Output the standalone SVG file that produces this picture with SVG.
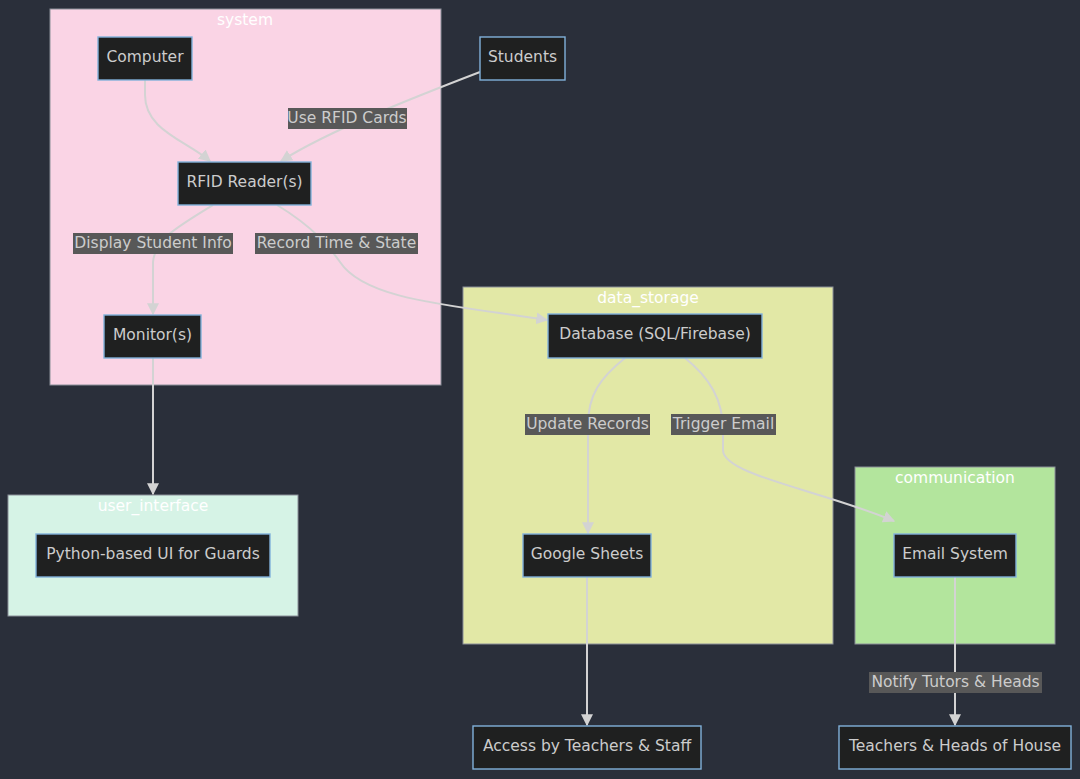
<svg xmlns="http://www.w3.org/2000/svg" width="1080" height="779" viewBox="0 0 1080 779">
  <defs>
    <marker id="arrow" viewBox="0 0 10 10" refX="9" refY="5" markerWidth="12" markerHeight="12" markerUnits="userSpaceOnUse" orient="auto">
      <path d="M0,0 L10,5 L0,10 z" fill="#d3d3d3"/>
    </marker>
    <style>
      text { font-family: "DejaVu Sans", "Liberation Sans", sans-serif; font-size: 15.5px; }
      .cluster rect { stroke: #8a8f98; stroke-width: 1; }
      .cluster text { fill: #ffffff; text-anchor: middle; }
      .node rect { fill: #1f2020; stroke: #81b1db; stroke-width: 1.4; }
      .node text { fill: #cccccc; text-anchor: middle; dominant-baseline: central; }
      .edges path { fill: none; stroke: #d3d3d3; stroke-width: 2; marker-end: url(#arrow); }
      .elabel rect { fill: #585858; }
      .elabel text { fill: #cccccc; text-anchor: middle; dominant-baseline: central; }
    </style>
  </defs>

  <rect width="1080" height="779" fill="#2a2f3a"/>

  <!-- subgraphs -->
  <g id="system" class="cluster">
    <rect x="50" y="9" width="391" height="376" fill="#fad4e5"/>
    <text x="245" y="25">system</text>
  </g>
  <g id="user_interface" class="cluster">
    <rect x="8" y="495" width="290" height="121" fill="#d6f3e6"/>
    <text x="153" y="511">user_interface</text>
  </g>
  <g id="data_storage" class="cluster">
    <rect x="463" y="287" width="370" height="357" fill="#e2e8a6"/>
    <text x="648" y="303">data_storage</text>
  </g>
  <g id="communication" class="cluster">
    <rect x="855" y="467" width="200" height="177" fill="#b3e59d"/>
    <text x="955" y="483">communication</text>
  </g>

  <!-- connectors -->
  <g id="edges" class="edges">
    <path d="M145,80 L145,95 C145,130 185,140 210,161"/>
    <path d="M480,72 C420,95 330,130 281,161"/>
    <path d="M213,205 C175,228 155,240 153,262 L153,314"/>
    <path d="M277,205 C315,228 330,248 340,262 C365,300 450,305 547,320"/>
    <path d="M153,358 L153,494"/>
    <path d="M625,358 C600,378 588,395 588,425 L588,533"/>
    <path d="M685,358 C710,378 723,400 723,430 L723,450 C723,475 820,490 894,521"/>
    <path d="M587,577 L587,725"/>
    <path d="M955,577 L955,725"/>
  </g>

  <!-- edge labels -->
  <g id="label-use-rfid" class="elabel">
    <rect x="288" y="108" width="119" height="21"/>
    <text x="347" y="117.5">Use RFID Cards</text>
  </g>
  <g id="label-display" class="elabel">
    <rect x="73" y="233" width="160" height="21"/>
    <text x="153" y="242.5">Display Student Info</text>
  </g>
  <g id="label-record" class="elabel">
    <rect x="255" y="233" width="163" height="21"/>
    <text x="336.5" y="242.5">Record Time &amp; State</text>
  </g>
  <g id="label-update" class="elabel">
    <rect x="525" y="414" width="125" height="21"/>
    <text x="587.5" y="423.5">Update Records</text>
  </g>
  <g id="label-trigger" class="elabel">
    <rect x="671" y="414" width="105" height="21"/>
    <text x="723.5" y="423.5">Trigger Email</text>
  </g>
  <g id="label-notify" class="elabel">
    <rect x="869" y="672" width="173" height="21"/>
    <text x="955.5" y="681.5">Notify Tutors &amp; Heads</text>
  </g>

  <!-- nodes -->
  <g id="computer" class="node">
    <rect x="98" y="37" width="94" height="43"/>
    <text x="145" y="56.5">Computer</text>
  </g>
  <g id="students" class="node">
    <rect x="480" y="37" width="85" height="43"/>
    <text x="522.5" y="56.5">Students</text>
  </g>
  <g id="rfid-reader" class="node">
    <rect x="178" y="162" width="133" height="43"/>
    <text x="244.5" y="181.5">RFID Reader(s)</text>
  </g>
  <g id="monitor" class="node">
    <rect x="104" y="315" width="97" height="43"/>
    <text x="152.5" y="334.5">Monitor(s)</text>
  </g>
  <g id="python-ui" class="node">
    <rect x="36" y="534" width="234" height="43"/>
    <text x="153" y="553.5">Python-based UI for Guards</text>
  </g>
  <g id="database" class="node">
    <rect x="548" y="314" width="214" height="44"/>
    <text x="655" y="334">Database (SQL/Firebase)</text>
  </g>
  <g id="google-sheets" class="node">
    <rect x="523" y="534" width="128" height="43"/>
    <text x="587" y="553.5">Google Sheets</text>
  </g>
  <g id="email-system" class="node">
    <rect x="894" y="534" width="122" height="43"/>
    <text x="955" y="553.5">Email System</text>
  </g>
  <g id="access-staff" class="node">
    <rect x="473" y="726" width="228" height="43"/>
    <text x="587" y="745.5">Access by Teachers &amp; Staff</text>
  </g>
  <g id="teachers-heads" class="node">
    <rect x="839" y="726" width="232" height="43"/>
    <text x="955" y="745.5">Teachers &amp; Heads of House</text>
  </g>
</svg>
